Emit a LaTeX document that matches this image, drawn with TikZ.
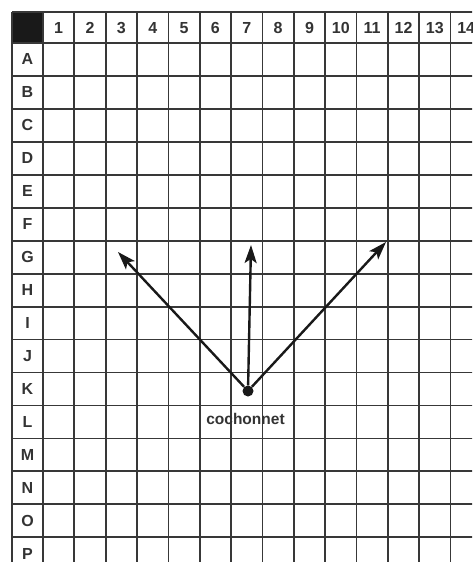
\documentclass[tikz,border=0pt]{standalone}
\usepackage{fontspec}
\setmainfont{Liberation Sans}
\usetikzlibrary{arrows.meta}
\begin{document}
\begin{tikzpicture}[x=1pt,y=-1pt,
  gridline/.style={line width=1.8pt, black!78},
  hdr/.style={font=\fontsize{16}{16}\selectfont\bfseries, inner sep=0pt, text=black!80},
  arr/.style={line width=2.4pt, black!90, -{Stealth[length=18pt,width=12pt,inset=4pt]}},
  ]
\useasboundingbox (0,0) rectangle (472,562);
\begin{scope}
  \clip (0,0) rectangle (472,562);
  \fill[black!90] (12,12) rectangle (43,43);
  \foreach \i in {0,...,14}
    \draw[gridline] ({43+31.35*\i},12) -- ({43+31.35*\i},570);
  \draw[gridline] (12,12) -- (12,570);
  \foreach \j in {0,...,16}
    \draw[gridline] (12,{43+32.95*\j}) -- (480,{43+32.95*\j});
  \draw[gridline] (12,12) -- (480,12);
  \foreach \n in {1,...,14}
    \node[hdr] (col\n) at ({43+31.35*(\n-0.5)},28) {\n};
  \foreach \l [count=\k] in {A,B,C,D,E,F,G,H,I,J,K,L,M,N,O,P}
    \node[hdr] (row\l) at (27.5,{43+32.95*(\k-0.5)}) {\l};
\end{scope}
\node[circle, fill=black!90, inner sep=0pt, minimum size=11pt] (c) at (248,391) {};
\node[font=\fontsize{15.5}{15.5}\selectfont\bfseries, inner sep=0pt, text=black!80] (lbl) at (245.5,419) {cochonnet};
\coordinate (tl) at (118,252);
\coordinate (tm) at (251,245);
\coordinate (tr) at (386,242);
\draw[arr] (c) -- (tl);
\draw[arr] (c) -- (tm);
\draw[arr] (c) -- (tr);
\end{tikzpicture}
\end{document}
